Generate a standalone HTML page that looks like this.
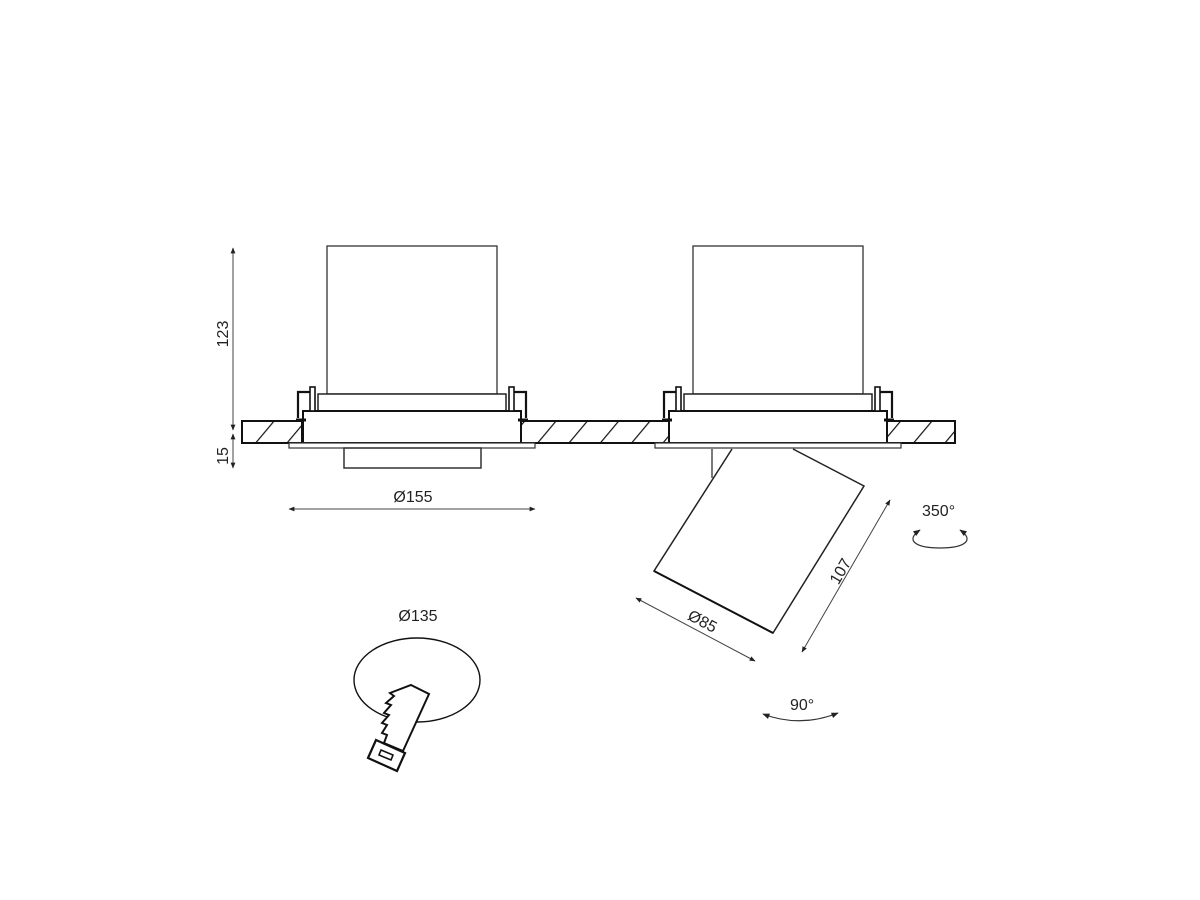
<!DOCTYPE html>
<html><head><meta charset="utf-8"><style>
html,body{margin:0;padding:0;background:#fff;}
svg{display:block;}
text{font-family:"Liberation Sans",sans-serif;font-size:16px;fill:#222;}
</style></head><body>
<svg width="1200" height="900" viewBox="0 0 1200 900" xmlns="http://www.w3.org/2000/svg">
<defs>
<marker id="a" viewBox="0 0 10 10" refX="9" refY="5" markerWidth="6" markerHeight="6" orient="auto-start-reverse"><path d="M0,1 L10,5 L0,9 z" fill="#222"/></marker>
<pattern id="h" patternUnits="userSpaceOnUse" width="24" height="24" patternTransform="rotate(40)"><line x1="0" y1="0" x2="0" y2="24" stroke="#111" stroke-width="2.4"/></pattern>
<g id="fx">
<rect x="327" y="246" width="170" height="148" fill="none" stroke="#333" stroke-width="1.3"/>
<rect x="318" y="394" width="188" height="17" fill="#fff" stroke="#222" stroke-width="1.5"/>
<rect x="303" y="411" width="218" height="32" fill="#fff" stroke="#111" stroke-width="2"/>
<rect x="289" y="443" width="246" height="5" fill="#fff" stroke="#333" stroke-width="1.2"/>
<path d="M298,418 L298,392 L311,392" fill="none" stroke="#111" stroke-width="2.2"/>
<path d="M296,420 L306,420" stroke="#111" stroke-width="3"/>
<rect x="310" y="387" width="5" height="24" fill="#fff" stroke="#111" stroke-width="1.6"/>
<path d="M526,418 L526,392 L513,392" fill="none" stroke="#111" stroke-width="2.2"/>
<path d="M518,420 L528,420" stroke="#111" stroke-width="3"/>
<rect x="509" y="387" width="5" height="24" fill="#fff" stroke="#111" stroke-width="1.6"/>
</g>
</defs>
<rect x="242" y="421" width="60" height="22" fill="url(#h)" stroke="#111" stroke-width="2"/>
<rect x="521" y="421" width="148" height="22" fill="url(#h)" stroke="#111" stroke-width="2"/>
<rect x="887" y="421" width="68" height="22" fill="url(#h)" stroke="#111" stroke-width="2"/>
<use href="#fx"/>
<rect x="344" y="448" width="137" height="20" fill="none" stroke="#333" stroke-width="1.5"/>
<use href="#fx" transform="translate(366,0)"/>
<path d="M712,449 L712,478" stroke="#333" stroke-width="1.3"/>
<path d="M732,449 L654,571 L773,633 L864,486 L793,449" fill="none" stroke="#222" stroke-width="1.5"/>
<path d="M654,571 L773,633" stroke="#111" stroke-width="2"/>
<line x1="233" y1="248" x2="233" y2="430" stroke="#444" stroke-width="1" marker-start="url(#a)" marker-end="url(#a)"/>
<line x1="233" y1="434" x2="233" y2="468" stroke="#444" stroke-width="1" marker-start="url(#a)" marker-end="url(#a)"/>
<text transform="translate(228,334) rotate(-90)" text-anchor="middle">123</text>
<text transform="translate(228,456) rotate(-90)" text-anchor="middle">15</text>
<line x1="289" y1="509" x2="535" y2="509" stroke="#444" stroke-width="1" marker-start="url(#a)" marker-end="url(#a)"/>
<text x="413" y="502" text-anchor="middle">Ø155</text>
<line x1="636" y1="598" x2="755" y2="661" stroke="#444" stroke-width="1" marker-start="url(#a)" marker-end="url(#a)"/>
<text transform="translate(700,626) rotate(28)" text-anchor="middle">Ø85</text>
<line x1="890" y1="500" x2="802" y2="652" stroke="#444" stroke-width="1" marker-start="url(#a)" marker-end="url(#a)"/>
<text transform="translate(845,574) rotate(-60)" text-anchor="middle">107</text>
<text x="922" y="516">350°</text>
<path d="M920,530 C905,540 915,548 940,548 C965,548 975,540 960,530" fill="none" stroke="#333" stroke-width="1.2" marker-start="url(#a)" marker-end="url(#a)"/>
<text x="790" y="710">90°</text>
<path d="M763,714 Q800,728 838,713" fill="none" stroke="#333" stroke-width="1.2" marker-start="url(#a)" marker-end="url(#a)"/>
<text x="418" y="621" text-anchor="middle">Ø135</text>
<ellipse cx="417" cy="680" rx="63" ry="42" fill="none" stroke="#111" stroke-width="1.4"/>
<path d="M411,685 L429,694 L403,751 L384,743 L387,735 L382,733 L387,725 L382,723 L389,715 L384,713 L391,705 L386,703 L394,696 L390,693 Z" fill="#fff" stroke="#111" stroke-width="2"/>
<path d="M376,740 L405,753 L397,771 L368,758 Z" fill="#fff" stroke="#111" stroke-width="2.2"/>
<path d="M381,750 L393,755 L391,760 L379,755 Z" fill="none" stroke="#111" stroke-width="1.6"/>
</svg>
</body></html>
